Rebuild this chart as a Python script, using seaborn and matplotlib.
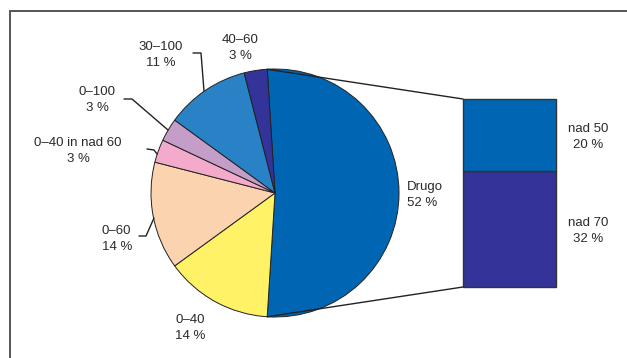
import numpy as np
import matplotlib
matplotlib.use("Agg")
import matplotlib.pyplot as plt
import seaborn as sns
from matplotlib.lines import Line2D
from matplotlib.patches import ConnectionPatch, Rectangle

# ---- data ----
pie_labels = ["Drugo", "0\u201340", "0\u201360", "0\u201340 in nad 60", "0\u2013100", "30\u2013100", "40\u201360"]
pie_values = [52, 14, 14, 3, 3, 11, 3]
pie_colors = ["#0066b3", "#fff266", "#fbd3ae", "#f4aacb", "#c49ec8", "#2a82c6", "#333399"]

bar_labels = ["nad 70", "nad 50"]
bar_values = [32, 20]
bar_colors = ["#333399", "#0066b3"]

sns.set_style("white")
plt.rcParams["font.family"] = ["Liberation Sans", "DejaVu Sans"]

W, H = 627, 358
fig = plt.figure(figsize=(W / 100, H / 100), dpi=100)


def px(x, y):
    # pixel position (from top-left) -> figure fraction
    return x / W, 1 - y / H


def box(x0, y0, x1, y1):
    return [x0 / W, 1 - y1 / H, (x1 - x0) / W, (y1 - y0) / H]


# frame around the figure (only top and left edges visible)
fig.add_artist(Rectangle(px(10, 400), (W + 50) / W, (400 - 11) / H, transform=fig.transFigure,
                         fill=False, edgecolor="#555555", linewidth=1.4))

# ---- pie ----
ax = fig.add_axes(box(151, 69, 399, 317))
drugo_angle = pie_values[0] / sum(pie_values) * 360
start = 90 + (drugo_angle - 180) / 2
wedges, _ = ax.pie(pie_values, colors=pie_colors, startangle=start, counterclock=False, radius=1,
                   wedgeprops=dict(edgecolor="#222222", linewidth=0.7))
ax.set_xlim(-1, 1)
ax.set_ylim(-1, 1)
ax.set_aspect("equal")
ax.axis("off")

# ---- bar of Drugo ----
ax2 = fig.add_axes(box(463, 99, 556, 287))
bottom = 0
for lab, val, col in zip(bar_labels, bar_values, bar_colors):
    ax2.bar([0], [val], bottom=bottom, width=1, color=col, edgecolor="#333333", linewidth=1.0,
            clip_on=False)
    bottom += val
ax2.set_xlim(-0.5, 0.5)
ax2.set_ylim(0, sum(bar_values))
ax2.axis("off")

# connector lines
t1 = np.deg2rad(start)
t2 = np.deg2rad(start - drugo_angle)
for (xa, ya), yb in [((np.cos(t1), np.sin(t1)), sum(bar_values)), ((np.cos(t2), np.sin(t2)), 0)]:
    con = ConnectionPatch(xyA=(xa, ya), coordsA=ax.transData, xyB=(-0.5, yb), coordsB=ax2.transData,
                          color="#222222", linewidth=1.0)
    fig.add_artist(con)

# ---- labels ----
fs = 9.5
tc = "#2a2a2a"
label_pos = {
    "Drugo": (407, 195, "left"),
    "0\u201340": (175, 328, "left"),
    "0\u201360": (102, 239, "left"),
    "0\u201340 in nad 60": (78, 151, "center"),
    "0\u2013100": (97, 100, "center"),
    "30\u2013100": (161, 55, "center"),
    "40\u201360": (240, 48, "center"),
}
for lab, val in zip(pie_labels, pie_values):
    x, y, ha = label_pos[lab]
    fig.text(*px(x, y), f"{lab}\n{val} %", ha=ha, va="center", fontsize=fs, color=tc,
             linespacing=1.4, multialignment="center" if ha == "center" else "left")

for lab, val, yy in zip(bar_labels, bar_values, [231, 137]):
    fig.text(*px(588, yy), f"{lab}\n{val} %", ha="center", va="center", fontsize=fs, color=tc,
             linespacing=1.4)

# leader lines
leaders = [
    [(193, 53), (201, 53), (204, 91)],
    [(124, 99), (132, 99), (168, 130)],
    [(147, 149), (154, 150), (157, 154)],
    [(139, 236), (146, 236), (154, 218)],
]
for pts in leaders:
    xs = [p[0] / W for p in pts]
    ys = [1 - p[1] / H for p in pts]
    fig.add_artist(Line2D(xs, ys, transform=fig.transFigure, color="#222222", linewidth=1.0))

fig.savefig("out.png", dpi=100)
